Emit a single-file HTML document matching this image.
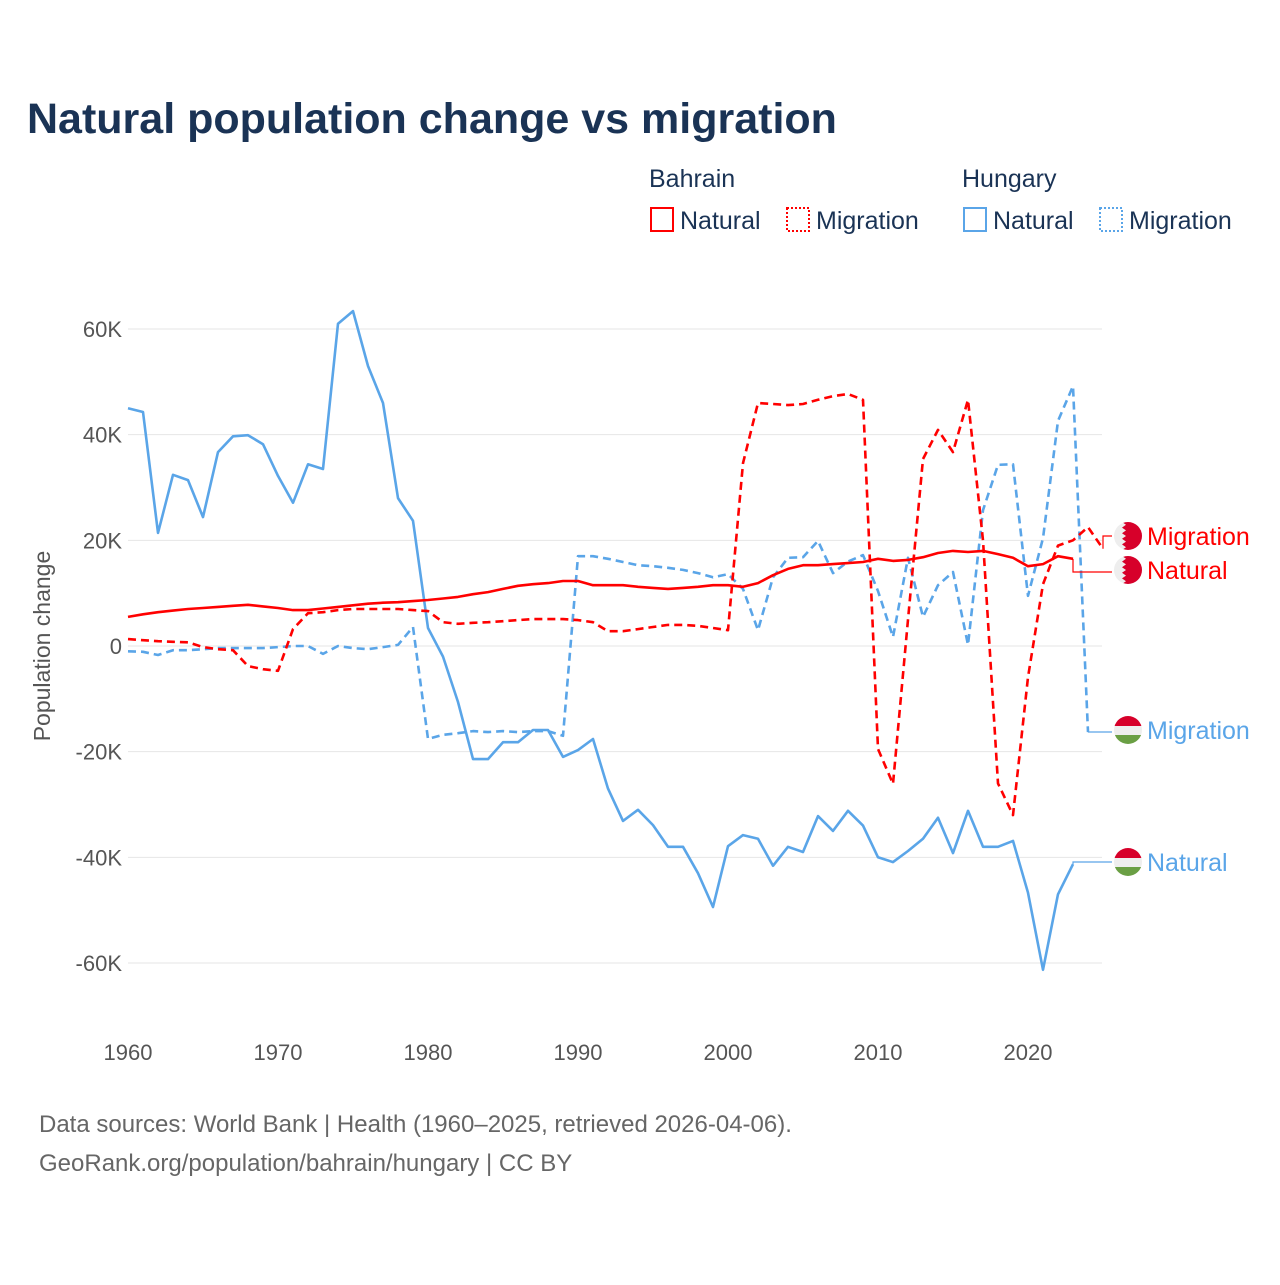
<!DOCTYPE html>
<html><head><meta charset="utf-8"><style>
body{margin:0;background:#fff;font-family:"Liberation Sans",sans-serif}
</style></head><body>
<svg id="chart" width="1280" height="1280" viewBox="0 0 1280 1280" xmlns="http://www.w3.org/2000/svg">
<defs>
<clipPath id="fc"><circle cx="0" cy="0" r="14"/></clipPath>
</defs>
<text x="27" y="133" font-size="43" font-weight="bold" fill="#1a3355">Natural population change vs migration</text>
<g font-size="25" fill="#1a3355">
<text x="649" y="187">Bahrain</text>
<text x="962" y="187">Hungary</text>
<g><rect x="651" y="208" width="22" height="23" fill="none" stroke="#f00" stroke-width="2"/><text x="680" y="229">Natural</text></g>
<g><rect x="787" y="208" width="22" height="23" fill="none" stroke="#f00" stroke-width="2" stroke-dasharray="2,2"/><text x="816" y="229">Migration</text></g>
<g><rect x="964" y="208" width="22" height="23" fill="none" stroke="#5aa5e8" stroke-width="2"/><text x="993" y="229">Natural</text></g>
<g><rect x="1100" y="208" width="22" height="23" fill="none" stroke="#5aa5e8" stroke-width="2" stroke-dasharray="2,2"/><text x="1129" y="229">Migration</text></g>
</g>
<g id="grid"></g>
<g id="axes"></g>
<g id="series"></g>
<g id="labels"></g>
<text transform="translate(50,646) rotate(-90)" text-anchor="middle" font-size="23" fill="#555">Population change</text>
<text x="39" y="1132" font-size="24" fill="#666">Data sources: World Bank | Health (1960–2025, retrieved 2026-04-06).</text>
<text x="39" y="1171" font-size="24" fill="#666">GeoRank.org/population/bahrain/hungary | CC BY</text>
</svg>
<script>
const years = [];
for (let y = 1960; y <= 2025; y++) years.push(y);
const yTicks = [60, 40, 20, 0, -20, -40, -60];
const yTickLabels = ["60K","40K","20K","0","-20K","-40K","-60K"];
const xTicks = [1960,1970,1980,1990,2000,2010,2020];
// values in thousands, from 1960
const hunNatural = [45.0,44.3,21.4,32.4,31.4,24.4,36.7,39.7,39.9,38.2,32.2,27.1,34.4,33.5,61.0,63.4,53.0,46.0,28.0,23.7,3.4,-2.0,-10.6,-21.4,-21.4,-18.2,-18.2,-15.9,-15.9,-21.0,-19.7,-17.6,-27.0,-33.1,-31.0,-33.9,-38.0,-38.0,-43.0,-49.4,-37.9,-35.8,-36.5,-41.6,-38.0,-39.0,-32.2,-35.0,-31.2,-34.0,-40.0,-40.9,-38.8,-36.5,-32.5,-39.2,-31.2,-38.0,-38.0,-36.9,-46.7,-61.3,-47.0,-41.3];
const hunMigration = [-1.0,-1.1,-1.7,-0.8,-0.8,-0.6,-0.4,-0.4,-0.4,-0.4,-0.2,0,0,-1.5,0,-0.4,-0.6,-0.2,0.2,3.6,-17.6,-16.8,-16.5,-16.1,-16.3,-16.1,-16.3,-16.1,-16.1,-17.0,17.0,17.0,16.5,15.9,15.3,15.1,14.8,14.4,13.8,13.0,13.6,10.8,3.0,13.0,16.7,16.8,19.9,13.8,16.0,17.2,10.4,1.7,16.7,5.5,11.5,14.0,0.2,25.7,34.3,34.4,9.5,20.4,42.6,49.2,-16.3];
const bhrNatural = [5.5,6.0,6.4,6.7,7.0,7.2,7.4,7.6,7.8,7.5,7.2,6.8,6.8,7.1,7.4,7.7,8.0,8.2,8.3,8.5,8.7,9.0,9.3,9.8,10.2,10.8,11.4,11.7,11.9,12.3,12.3,11.5,11.5,11.5,11.2,11.0,10.8,11.0,11.2,11.5,11.5,11.2,11.9,13.4,14.6,15.3,15.3,15.5,15.7,15.9,16.5,16.1,16.3,16.8,17.6,18.0,17.8,18.0,17.4,16.7,15.1,15.5,17.0,16.5];
const bhrMigration = [1.3,1.1,0.9,0.8,0.7,-0.2,-0.6,-0.8,-3.8,-4.4,-4.7,3.2,6.2,6.4,6.8,7.0,7.0,7.0,7.0,6.8,6.6,4.5,4.2,4.4,4.5,4.7,4.9,5.1,5.1,5.1,4.9,4.5,2.8,2.8,3.2,3.6,4.0,4.0,3.8,3.4,3.0,34.6,46.0,45.8,45.6,45.8,46.6,47.3,47.7,46.6,-19.5,-26.1,5.0,35.4,40.9,36.7,46.6,20.0,-26.0,-32.0,-5.9,11.7,19.0,20.0,22.5,18.4];

const X = y => 128 + (y - 1960) * 15;
const Y = v => 646 - v * 5.283;
const NS = "http://www.w3.org/2000/svg";
function mk(tag, attrs, parent) {
  const e = document.createElementNS(NS, tag);
  for (const k in attrs) e.setAttribute(k, attrs[k]);
  parent.appendChild(e);
  return e;
}
const grid = document.getElementById('grid');
const axes = document.getElementById('axes');
yTicks.forEach((t, i) => {
  const l = mk('line', {x1: 128, x2: 1102, y1: Y(t), y2: Y(t), stroke: '#e6e6e6', 'stroke-width': 1}, grid);
  
  
  const tx = mk('text', {x: 122, y: Y(t) + 8, 'text-anchor': 'end', 'font-size': 22, fill: '#555'}, axes);
  tx.textContent = yTickLabels[i];
  
  
});
xTicks.forEach(t => {
  const tx = mk('text', {x: X(t), y: 1060, 'text-anchor': 'middle', 'font-size': 22, fill: '#555'}, axes);
  tx.textContent = t;
  
  
});
const series = document.getElementById('series');
function line(vals, color, dash, name, endY) {
  let pts = vals.map((v, i) => [X(years[i]), Y(v)]);
  let d = pts.map((p, i) => (i ? 'L' : 'M') + p[0].toFixed(1) + ',' + p[1].toFixed(1)).join('');
  const p = mk('path', {d: d, fill: 'none', stroke: color, 'stroke-width': 2.6, 'stroke-dasharray': dash, 'stroke-linejoin': 'round'}, series);
  
  
  const last = pts[pts.length - 1];
  const c = mk('path', {d: `M${last[0]},${last[1]}L${last[0]},${endY}L1112,${endY}`, fill: 'none', stroke: color, 'stroke-width': 1.2}, series);
  
  
}
line(hunNatural, '#5aa5e8', 'none', 'line-hungary-natural', 862);
line(hunMigration, '#5aa5e8', '8,5', 'line-hungary-migration', 732);
line(bhrNatural, '#f00', 'none', 'line-bahrain-natural', 572);
line(bhrMigration, '#f00', '8,5', 'line-bahrain-migration', 536);

const labels = document.getElementById('labels');
function endLabel(y, text, color, flag, name) {
  const g = mk('g', {transform: `translate(1128,${y})`}, labels);
  
  
  const f = mk('g', {'clip-path': 'url(#fc)'}, g);
  if (flag === 'bh') {
    mk('rect', {x: -14, y: -14, width: 28, height: 28, fill: '#eee'}, f);
    mk('polygon', {points: '-6,-14 -2,-11.2 -6,-8.4 -2,-5.6 -6,-2.8 -2,0 -6,2.8 -2,5.6 -6,8.4 -2,11.2 -6,14 14,14 14,-14', fill: '#d7002a'}, f);
  } else {
    mk('rect', {x: -14, y: -14, width: 28, height: 10, fill: '#d7002a'}, f);
    mk('rect', {x: -14, y: -4, width: 28, height: 9, fill: '#eee'}, f);
    mk('rect', {x: -14, y: 5, width: 28, height: 10, fill: '#6a9f44'}, f);
  }
  const t = mk('text', {x: 19, y: 9, 'font-size': 25, fill: color}, g);
  t.textContent = text;
}
endLabel(536, 'Migration', '#f00', 'bh', 'end-label-bahrain-migration');
endLabel(570, 'Natural', '#f00', 'bh', 'end-label-bahrain-natural');
endLabel(730, 'Migration', '#5aa5e8', 'hu', 'end-label-hungary-migration');
endLabel(862, 'Natural', '#5aa5e8', 'hu', 'end-label-hungary-natural');
</script>
</body></html>
